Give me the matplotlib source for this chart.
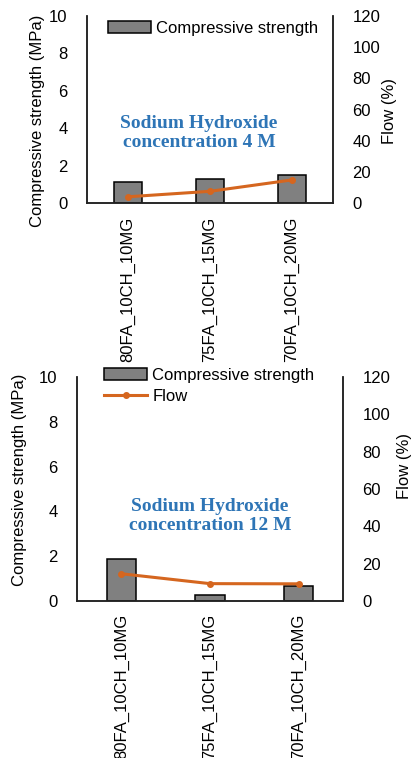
import numpy as np
import matplotlib
matplotlib.use("Agg")
import matplotlib.pyplot as plt

# data
mixes = ["80FA_10CH_10MG", "75FA_10CH_15MG", "70FA_10CH_20MG"]
strength_4M = [1.12, 1.3, 1.5]
flow_4M = [4.0, 7.5, 14.8]
strength_12M = [1.86, 0.25, 0.67]
flow_12M = [14.6, 9.3, 9.2]

plt.rcParams['font.family'] = ['Liberation Sans', 'DejaVu Sans']
plt.rcParams['font.size'] = 12

bar_col = '#808080'
line_col = '#D5661F'
note_col = '#2E75B6'

fig = plt.figure(figsize=(4.13, 7.58), dpi=100)
W, H = 413.0, 758.0

def make_panel(rect, strength, flow, note, note_xy, lab_l, lab_r, xpad, show_flow_legend, leg_xy):
    l, t, r, b = rect
    ax = fig.add_axes([l / W, 1 - b / H, (r - l) / W, (b - t) / H])
    ax2 = ax.twinx()
    x = np.arange(len(mixes))
    bars = ax.bar(x, strength, width=0.33, color=bar_col, edgecolor='black',
                  linewidth=1.1, label='Compressive strength', zorder=2)
    ln, = ax2.plot(x, flow, color=line_col, lw=2.2, marker='o', ms=4,
                   label='Flow', zorder=3)
    ax.set_xlim(-0.5, 2.5)
    ax.set_ylim(0, 10)
    ax2.set_ylim(0, 120)
    ax.set_yticks(np.arange(0, 11, 2))
    ax2.set_yticks(np.arange(0, 121, 20))
    ax.set_xticks(x)
    ax.set_xticklabels(mixes, rotation=90)
    ax.tick_params(axis='y', length=0, pad=14, labelsize=12)
    ax.tick_params(axis='x', length=0, pad=xpad, labelsize=12)
    ax2.tick_params(axis='y', length=0, pad=14, labelsize=12)
    for a in (ax, ax2):
        a.spines['top'].set_visible(False)
        for s in ('left', 'right', 'bottom'):
            a.spines[s].set_linewidth(1.1)
            a.spines[s].set_color('#222222')
    ax.set_ylabel('Compressive strength (MPa)', fontsize=12)
    ax2.set_ylabel('Flow (%)', fontsize=12)
    ax.yaxis.set_label_coords(*lab_l)
    ax2.yaxis.set_label_coords(*lab_r)
    ax2.text(note_xy[0], note_xy[1], note, transform=ax2.transAxes,
             ha='center', va='center', color=note_col, fontsize=14,
             fontweight='bold', family='Liberation Serif', linespacing=1.2)
    handles = [bars, ln] if show_flow_legend else [bars]
    fig.legend(handles=handles, loc='upper left',
               bbox_to_anchor=(leg_xy[0] / W, 1 - leg_xy[1] / H),
               frameon=False, borderpad=0, borderaxespad=0,
               handlelength=2.6, handleheight=0.7, handletextpad=0.3,
               labelspacing=0.35, fontsize=12)
    return ax, ax2

make_panel((87, 16, 333, 203), strength_4M, flow_4M,
           'Sodium Hydroxide\nconcentration 4 M', (0.455, 0.374),
           (-0.171, 0.44), (1.199, 0.49), 10, False, (108, 21))

make_panel((77, 377, 343, 601), strength_12M, flow_12M,
           'Sodium Hydroxide\nconcentration 12 M', (0.5, 0.379),
           (-0.188, 0.54), (1.203, 0.603), 9, True, (104, 368))

fig.savefig('out.png', dpi=100)
